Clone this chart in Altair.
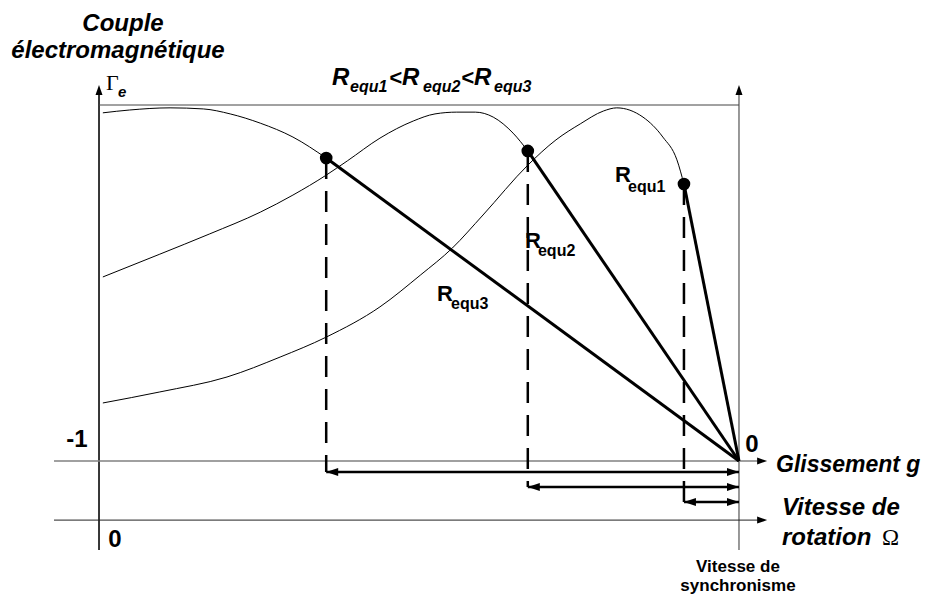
import altair as alt
import pandas as pd

# ---------------- data (Omega / Omega_s , torque / top level) ----------------
CURVE_NAMES = ["R_equ1", "R_equ2", "R_equ3"]
R1_OMEGA = [0.006, 0.095, 0.200, 0.283, 0.355, 0.439, 0.502, 0.552, 0.600, 0.670,
            0.714, 0.752, 0.788, 0.809, 0.850, 0.881, 0.903, 0.914]
R1_TORQUE = [0.163, 0.194, 0.236, 0.292, 0.348, 0.433, 0.522, 0.598, 0.691, 0.831,
             0.902, 0.947, 0.983, 0.992, 0.966, 0.910, 0.846, 0.778]
R2_OMEGA = [0.006, 0.095, 0.173, 0.252, 0.303, 0.355, 0.388, 0.439, 0.491, 0.525,
            0.559, 0.588, 0.616, 0.647, 0.670]
R2_TORQUE = [0.517, 0.581, 0.638, 0.699, 0.747, 0.803, 0.843, 0.907, 0.955, 0.975,
             0.980, 0.980, 0.966, 0.921, 0.871]
R3_OMEGA = [0.006, 0.048, 0.111, 0.163, 0.205, 0.252, 0.303, 0.355]
R3_TORQUE = [0.978, 0.986, 0.992, 0.989, 0.975, 0.949, 0.910, 0.851]

OP_NAMES = ["R_equ1", "R_equ2", "R_equ3"]
OP_OMEGA = [0.914, 0.670, 0.355]
OP_TORQUE = [0.778, 0.871, 0.851]
SYNC_OMEGA = 1.0
SYNC_TORQUE = 0.0

# ---------------- layout ----------------
XD = [-0.1422, 1.2922]
YD = [-0.3764, 1.2725]
ARROW_LEVELS = [-0.115, -0.073, -0.031]
xs = alt.Scale(domain=XD, nice=False, zero=False)
ys = alt.Scale(domain=YD, nice=False, zero=False)


def X(f):
    return alt.X(f, type="quantitative", scale=xs, axis=None)


def Y(f):
    return alt.Y(f, type="quantitative", scale=ys, axis=None)


SANS = "Liberation Sans"
SERIF = "Liberation Serif"

curves = pd.concat([
    pd.DataFrame({"omega": R1_OMEGA, "torque": R1_TORQUE, "curve": CURVE_NAMES[0]}),
    pd.DataFrame({"omega": R2_OMEGA, "torque": R2_TORQUE, "curve": CURVE_NAMES[1]}),
    pd.DataFrame({"omega": R3_OMEGA, "torque": R3_TORQUE, "curve": CURVE_NAMES[2]}),
], ignore_index=True)

ops = pd.DataFrame({"name": OP_NAMES, "omega": OP_OMEGA, "torque": OP_TORQUE,
                    "level": ARROW_LEVELS, "sx": SYNC_OMEGA, "sy": SYNC_TORQUE})

curve_layer = alt.Chart(curves).mark_line(
    color="black", strokeWidth=1, interpolate="monotone"
).encode(x=X("omega"), y=Y("torque"), detail="curve:N")

chord_layer = alt.Chart(ops).mark_rule(color="black", strokeWidth=3).encode(
    x=X("omega"), y=Y("torque"), x2="sx", y2="sy")

dash_layer = alt.Chart(ops).mark_rule(
    color="black", strokeWidth=2.5, strokeDash=[21, 12]
).encode(x=X("omega"), y=Y("torque"), y2="level")

dot_layer = alt.Chart(ops).mark_circle(color="black", opacity=1, size=160).encode(
    x=X("omega"), y=Y("torque"))

arrow_line = alt.Chart(ops).mark_rule(color="black", strokeWidth=2.5).encode(
    x=X("omega"), x2="sx", y=Y("level"))

LEFT_HEAD = "M0,0L1,-0.33L1,0.33Z"
RIGHT_HEAD = "M0,0L-1,-0.33L-1,0.33Z"
UP_HEAD = "M0,0L-0.35,1L0.35,1Z"
RIGHT_AX = "M0,0L-1,-0.35L-1,0.35Z"

left_heads = alt.Chart(ops).mark_point(
    shape=LEFT_HEAD, filled=True, size=576, opacity=1, color="black", strokeWidth=0
).encode(x=X("omega"), y=Y("level"))
right_heads = alt.Chart(ops).mark_point(
    shape=RIGHT_HEAD, filled=True, size=576, opacity=1, color="black", strokeWidth=0
).encode(x=X("sx"), y=Y("level"))

axes_df = pd.DataFrame({
    "x": [0.0, 1.0, 0.0, -0.0703, -0.0703],
    "y": [-0.25, -0.25, 1.0, 0.0, -0.166],
    "x2": [0.0, 1.0, 1.0, 1.035, 1.035],
    "y2": [1.04, 1.04, 1.0, 0.0, -0.166],
    "col": ["#222222", "#333333", "#444444", "#808080", "#222222"],
    "w": [1.8, 1.0, 1.0, 1.6, 1.0],
})
axes_layer = alt.Chart(axes_df).mark_rule().encode(
    x=X("x"), y=Y("y"), x2="x2", y2="y2",
    color=alt.Color("col:N", scale=None),
    strokeWidth=alt.StrokeWidth("w:Q", scale=None))

up_df = pd.DataFrame({"x": [0.0, 1.0], "y": [1.056, 1.056]})
up_heads = alt.Chart(up_df).mark_point(
    shape=UP_HEAD, filled=True, size=400, opacity=1, color="black", strokeWidth=0
).encode(x=X("x"), y=Y("y"))
rt_df = pd.DataFrame({"x": [1.044, 1.044], "y": [0.0, -0.166]})
rt_heads = alt.Chart(rt_df).mark_point(
    shape=RIGHT_AX, filled=True, size=400, opacity=1, color="black", strokeWidth=0
).encode(x=X("x"), y=Y("y"))


def text_layer(rows, align, font, weight, style):
    df = pd.DataFrame(rows, columns=["t", "x", "y", "fs"])
    kw = dict(align=align, baseline="alphabetic", font=font, color="black")
    if weight:
        kw["fontWeight"] = weight
    if style:
        kw["fontStyle"] = style
    return alt.Chart(df).mark_text(**kw).encode(
        x=X("x"), y=Y("y"), text="t:N", size=alt.Size("fs:Q", scale=None))


t_bi_center = text_layer([
    ["Couple", 0.0375, 1.208, 24],
    ["électromagnétique", 0.0297, 1.132, 24],
], "center", SANS, "bold", "italic")

t_bi_left = text_layer([
    ["R", 0.3641, 1.0562, 24], ["equ1", 0.3922, 1.0365, 16],
    ["<", 0.4531, 1.0562, 22],
    ["R", 0.4734, 1.0562, 24], ["equ2", 0.5063, 1.0365, 16],
    ["<", 0.5656, 1.0562, 22],
    ["R", 0.5859, 1.0562, 24], ["equ3", 0.6172, 1.0365, 16],
    ["e", 0.0297, 1.0225, 15],
    ["Glissement g", 1.0578, -0.0309, 23],
    ["Vitesse de", 1.0672, -0.1517, 24],
    ["rotation", 1.0672, -0.2360, 24],
], "left", SANS, "bold", "italic")

t_b_left = text_layer([
    ["R", 0.8063, 0.7837, 22], ["equ1", 0.8266, 0.7556, 16],
    ["R", 0.6656, 0.5983, 22], ["equ2", 0.6859, 0.5758, 16],
    ["R", 0.5281, 0.4494, 22], ["equ3", 0.5500, 0.4270, 16],
], "left", SANS, "bold", None)

t_b_center = text_layer([
    ["-1", -0.0344, 0.0393, 24],
    ["0", 1.0203, 0.0253, 24],
    ["0", 0.0250, -0.2416, 24],
    ["Vitesse de", 0.9984, -0.3118, 17],
    ["synchronisme", 0.9984, -0.3638, 17],
], "center", SANS, "bold", None)

t_serif = text_layer([
    ["Γ", 0.0109, 1.042, 22],
    ["Ω", 1.2234, -0.2360, 23],
], "left", SERIF, None, None)

chart = alt.layer(
    axes_layer, up_heads, rt_heads, curve_layer, dash_layer, chord_layer,
    arrow_line, left_heads, right_heads, dot_layer,
    t_bi_center, t_bi_left, t_b_left, t_b_center, t_serif,
).properties(
    width=918, height=587, autosize=alt.AutoSizeParams(type="none"),
    padding=0, background="white",
).configure_view(stroke=None)

chart.save("out.html", embed_options={"renderer": "svg", "actions": False})
